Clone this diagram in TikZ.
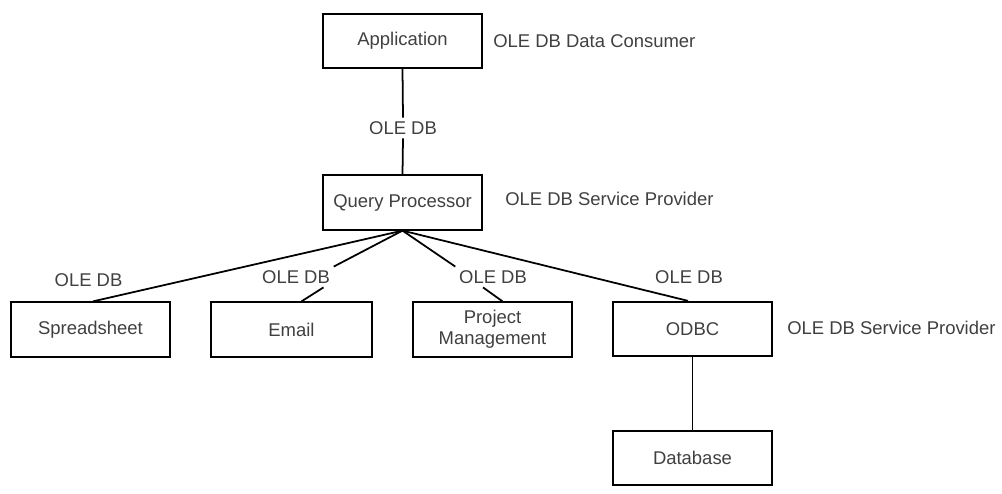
\documentclass[tikz,border=0pt]{standalone}
\usepackage{fontspec}
\setmainfont{Liberation Sans}
\usetikzlibrary{calc}

\begin{document}
\begin{tikzpicture}[
    font=\fontsize{10.5}{12}\selectfont,
    box/.style={draw,line width=1pt,minimum width=3.18cm,minimum height=1.09cm,fill=white,text=black!75,align=center},
    iface/.style={text=black!75,inner sep=2pt},
    role/.style={text=black!75,anchor=west,inner sep=0pt},
    link/.style={line width=1pt}
  ]
      \useasboundingbox (0,0) rectangle (20.04,-9.88);
      \node[box] at (8.05,-0.82) (app) {Application};
      \node[box] at (8.05,-4.05) (qp) {Query Processor};
      \node[box,minimum width=3.18cm] at (1.81,-6.59) (sheet) {Spreadsheet};
      \node[box,minimum width=3.22cm] at (5.83,-6.59) (email) {Email};
      \node[box] at (9.85,-6.59) (proj) {Project\\Management};
      \node[box] at (13.85,-6.58) (odbc) {ODBC};
      \node[box] at (13.85,-9.16) (db) {Database};
      \node[iface] at (8.06,-2.56) (l app) {OLE DB};
      \node[iface] at (1.77,-5.60) (l sheet) {OLE DB};
      \node[iface] at (5.92,-5.54) (l email) {OLE DB};
      \node[iface] at (9.86,-5.54) (l proj) {OLE DB};
      \node[iface] at (13.78,-5.54) (l odbc) {OLE DB};
      \node[role] at (9.86,-0.82) (r app) {OLE DB Data Consumer};
      \node[role] at (10.10,-3.98) (r qp) {OLE DB Service Provider};
      \node[role] at (15.74,-6.56) (r odbc) {OLE DB Service Provider};
      \draw[link] (app.south) -- (l app.north);
      \draw[link] (l app.south) -- (qp.north);
      \draw[link] (qp.south) -- ([xshift=0.05cm]sheet.north);
      \draw[link] (qp.south) -- (l email.north east);
      \draw[link] ([xshift=0.55cm]l email.south) -- ([xshift=0.2cm]email.north);
      \draw[link] (qp.south) -- (l proj.north west);
      \draw[link] ([xshift=-0.2cm]l proj.south) -- ([xshift=0.2cm]proj.north);
      \draw[link] (qp.south) -- ([xshift=-0.09cm]odbc.north);
      \draw[link] (odbc.south) -- (db.north);
    \end{tikzpicture}
\end{document}
